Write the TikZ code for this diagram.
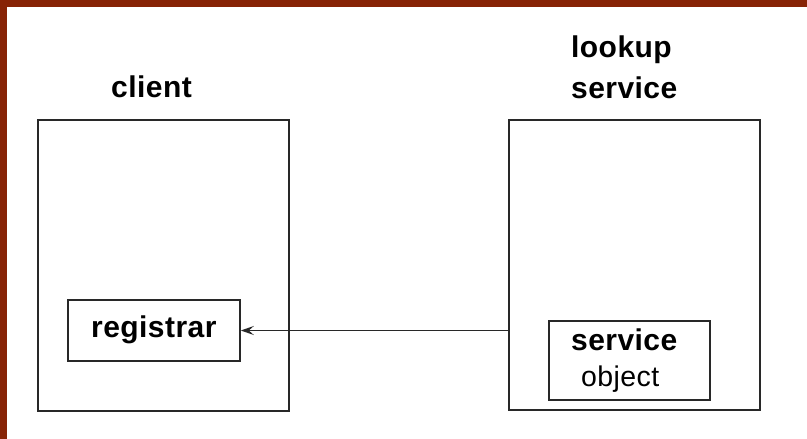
\documentclass[tikz,border=0pt]{standalone}
\usepackage{fontspec}
\setmainfont{Liberation Sans}
\newfontfamily\lblfont[LetterSpace=1.5]{Liberation Sans}
\usetikzlibrary{arrows.meta}
\definecolor{frame}{RGB}{135,35,5}
\definecolor{ink}{RGB}{40,40,40}
\tikzset{
  box/.style={draw=ink,line width=1.6pt,rectangle,inner sep=0pt},
  lbl/.style={inner sep=0pt,anchor=base west,font=\lblfont\fontsize{30}{34}\selectfont\bfseries},
  reglbl/.style={inner sep=0pt,anchor=base west,font=\lblfont\fontsize{28.5}{34}\selectfont},
  conn/.style={draw=ink,line width=1.6pt,-{Stealth[length=13pt,width=9pt,inset=5pt]}}
}
\begin{document}
\begin{tikzpicture}[x=1pt,y=-1pt]
\useasboundingbox (0,0) rectangle (807,439);
\fill[white] (0,0) rectangle (807,439);
\fill[frame] (0,0) rectangle (807,7);
\fill[frame] (0,0) rectangle (7,439);
% boxes
\node[box,minimum width=251pt,minimum height=291pt] (client) at (163.5,265.5) {};
\node[box,minimum width=172pt,minimum height=61pt] (reg) at (154,330.5) {};
\node[box,minimum width=251pt,minimum height=290pt] (lookup) at (634.5,265) {};
\node[box,minimum width=161pt,minimum height=79pt] (svc) at (629.5,360.5) {};
% labels
\node[lbl] (clientlbl) at (111,97) {client};
\node[lbl] (reglbl) at (91,337) {registrar};
\node[lbl] (lookuplbl1) at (571,57) {lookup};
\node[lbl] (lookuplbl2) at (571,98) {service};
\node[lbl] (svclbl1) at (571,350) {service};
\node[reglbl] (svclbl2) at (581,386) {object};
% connector
\draw[conn] (lookup.west |- reg.east) -- (reg.east);
\end{tikzpicture}
\end{document}
